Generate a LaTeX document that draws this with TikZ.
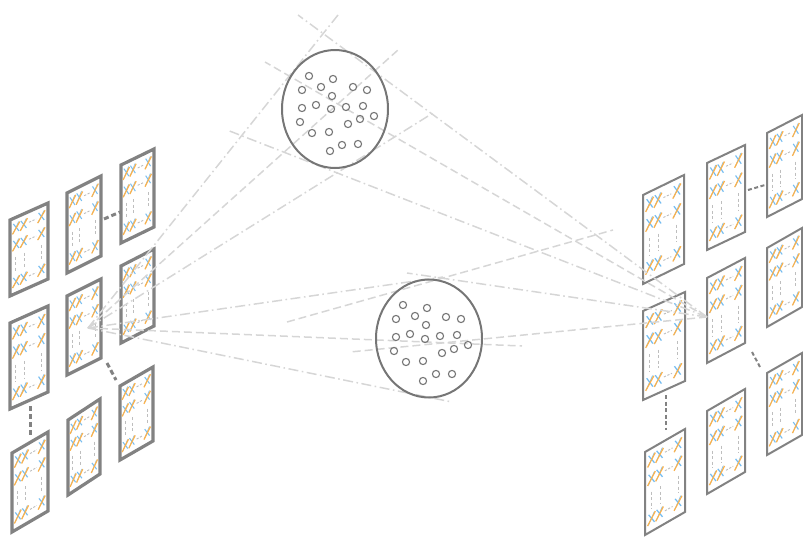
\documentclass[tikz,border=0pt]{standalone}
\usepackage{fontspec}
\setmainfont{Liberation Sans}
\usetikzlibrary{shapes.geometric,calc}
\definecolor{raygray}{RGB}{214,214,214}
\definecolor{framegray}{RGB}{130,130,130}
\definecolor{circgray}{RGB}{118,118,118}
\definecolor{xblue}{RGB}{112,186,240}
\definecolor{xorange}{RGB}{251,178,76}
\definecolor{dotgray}{RGB}{190,190,190}
\newcommand\pagebox[7]{%
 \pgfmathsetmacro\pk{#7/#5}%
 \pgfmathsetmacro\psx{#5/40}%
 \pgfmathsetmacro\psy{#6/85}%
 \begin{scope}[shift={(#3,#4)}, yslant=\pk, xscale=\psx, yscale=\psy]
  \draw[line width=#2, draw=framegray, fill=white, line join=miter] (0,0) rectangle (40,85);
  \foreach \r in {12,31,72} {
    \node[xtxt] (#1-\r-a) at (10.5,\r) {XX};
    \node[xtxt] (#1-\r-b) at (33,\r) {X};
    \draw[xo] (#1-\r-a.south west) -- ($(#1-\r-a.north west)!0.5!(#1-\r-a.north east)$);
    \draw[xo] ($(#1-\r-a.south west)!0.5!(#1-\r-a.south east)$) -- (#1-\r-a.north east);
    \draw[xo] (#1-\r-b.south west) -- (#1-\r-b.north east);
    \draw[xdash] (#1-\r-a.east) -- (#1-\r-b.west);
  }
  \foreach \c in {6,15,33} \draw[xvdots] (\c,44) -- (\c,61);
 \end{scope}}
\tikzset{
 xtxt/.style={transform shape, xscale=0.85, yscale=1.12, inner sep=0pt, text=xblue, font=\fontsize{14}{14}\selectfont},
 xo/.style={draw=xorange, line width=1.2pt, shorten <=0.4pt, shorten >=0.4pt},
 xdash/.style={draw=dotgray, line width=0.9pt, dash pattern=on 2.2pt off 1.6pt, shorten <=1.5pt, shorten >=1.5pt},
 xvdots/.style={draw=dotgray, line width=0.9pt, dash pattern=on 3pt off 2.5pt},
 ray/.style={draw=raygray, line width=1.5pt},
 rdash/.style={ray, dash pattern=on 8pt off 4pt},
 rdot/.style={ray, dash pattern=on 10pt off 3.5pt on 1.6pt off 3.5pt},
 link/.style={draw=framegray, line width=3pt, dash pattern=on 5pt off 3pt},
 rlink/.style={draw=framegray, line width=2pt, dash pattern=on 4pt off 2.5pt},
 bigcirc/.style={ellipse, draw=circgray, line width=2pt, inner sep=0pt, minimum width=106pt, minimum height=118pt},
 dotc/.style={draw=circgray, line width=1.1pt}
}
\begin{document}
\begin{tikzpicture}[x=1pt, y=-1pt]
\useasboundingbox (0,0) rectangle (803,536);
% left grid
\pagebox{la}{3.2pt}{10}{220}{38}{76}{17}
\pagebox{lb}{3.2pt}{10}{323}{38}{86}{17}
\pagebox{lc}{3.2pt}{12}{453}{36}{79}{21}
\pagebox{ld}{3.2pt}{67}{193}{34}{80}{17}
\pagebox{le}{3.2pt}{67}{296}{34}{79}{17}
\pagebox{lf}{3.2pt}{68}{420}{32}{75}{21}
\pagebox{lg}{3.2pt}{121}{165}{33}{78}{16}
\pagebox{lh}{3.2pt}{121}{266}{33}{77}{17}
\pagebox{li}{3.2pt}{120}{386}{33}{74}{19}
% right grid
\pagebox{ra}{2pt}{643}{195}{41}{89}{20}
\pagebox{rb}{2pt}{707}{163}{38}{87}{18}
\pagebox{rc}{2pt}{767}{133}{35}{84}{18}
\pagebox{rd}{2pt}{643}{311}{42}{89}{19}
\pagebox{re}{2pt}{707}{278}{38}{85}{20}
\pagebox{rf}{2pt}{767}{248}{35}{79}{20}
\pagebox{rg}{2pt}{645}{452}{40}{83}{23}
\pagebox{rh}{2pt}{707}{411}{38}{83}{22}
\pagebox{ri}{2pt}{767}{373}{35}{82}{20}
% page links
\coordinate (k1a) at (104,219); \coordinate (k1b) at (120,212);
\coordinate (k2a) at (30,406);  \coordinate (k2b) at (30,435);
\coordinate (k3a) at (107,363); \coordinate (k3b) at (116,380);
\coordinate (k4a) at (748,190); \coordinate (k4b) at (765,185);
\coordinate (k5a) at (666,395); \coordinate (k5b) at (666,430);
\coordinate (k6a) at (752,352); \coordinate (k6b) at (760,367);
\draw[link] (k1a) -- (k1b);
\draw[link] (k2a) -- (k2b);
\draw[link] (k3a) -- (k3b);
\draw[rlink] (k4a) -- (k4b);
\draw[rlink] (k5a) -- (k5b);
\draw[rlink] (k6a) -- (k6b);
% rays
\coordinate (L) at (88,328);
\coordinate (R) at (707,317);
\coordinate (e1) at (338,15);
\coordinate (e2) at (398,50);
\coordinate (e3) at (433,113);
\coordinate (e4) at (443,277);
\coordinate (e5) at (522,346);
\coordinate (e6) at (452,402);
\coordinate (f1) at (298,15);
\coordinate (f2) at (265,62);
\coordinate (f3) at (227,130);
\coordinate (f4) at (407,273);
\coordinate (f5) at (350,352);
\coordinate (g1) at (287,322);
\coordinate (g2) at (613,230);
\draw[rdot] (L) -- (e1);
\draw[rdash] (L) -- (e2);
\draw[rdot] (L) -- (e3);
\draw[rdot] (L) -- (e4);
\draw[rdash] (L) -- (e5);
\draw[rdot] (L) -- (e6);
\draw[rdot] (R) -- (f1);
\draw[rdash] (R) -- (f2);
\draw[rdot] (R) -- (f3);
\draw[rdot] (R) -- (f4);
\draw[rdash] (R) -- (f5);
\draw[rdash] (g1) -- (g2);
% circles
\node[bigcirc] (top) at (335,109) {};
\node[bigcirc] (bot) at (429,338.5) {};
\foreach \p in {(309,76),(333,79),(302,90),(321,87),(353,87),(367,90),(332,96),(302,108),(316,105),(331,109),(346,107),(363,106),(374,116),(360,119),(348,124),(300,122),(312,133),(329,132),(330,151),(342,145),(358,144)}
  \draw[dotc] \p circle[radius=3.6pt];
\foreach \p in {(403,305),(427,308),(396,319),(415,316),(446,317),(461,319),(426,325),(396,337),(410,334),(425,339),(440,336),(457,335),(468,345),(454,349),(442,353),(394,351),(406,362),(423,361),(423,381),(436,374),(452,374)}
  \draw[dotc] \p circle[radius=3.6pt];
\end{tikzpicture}
\end{document}
